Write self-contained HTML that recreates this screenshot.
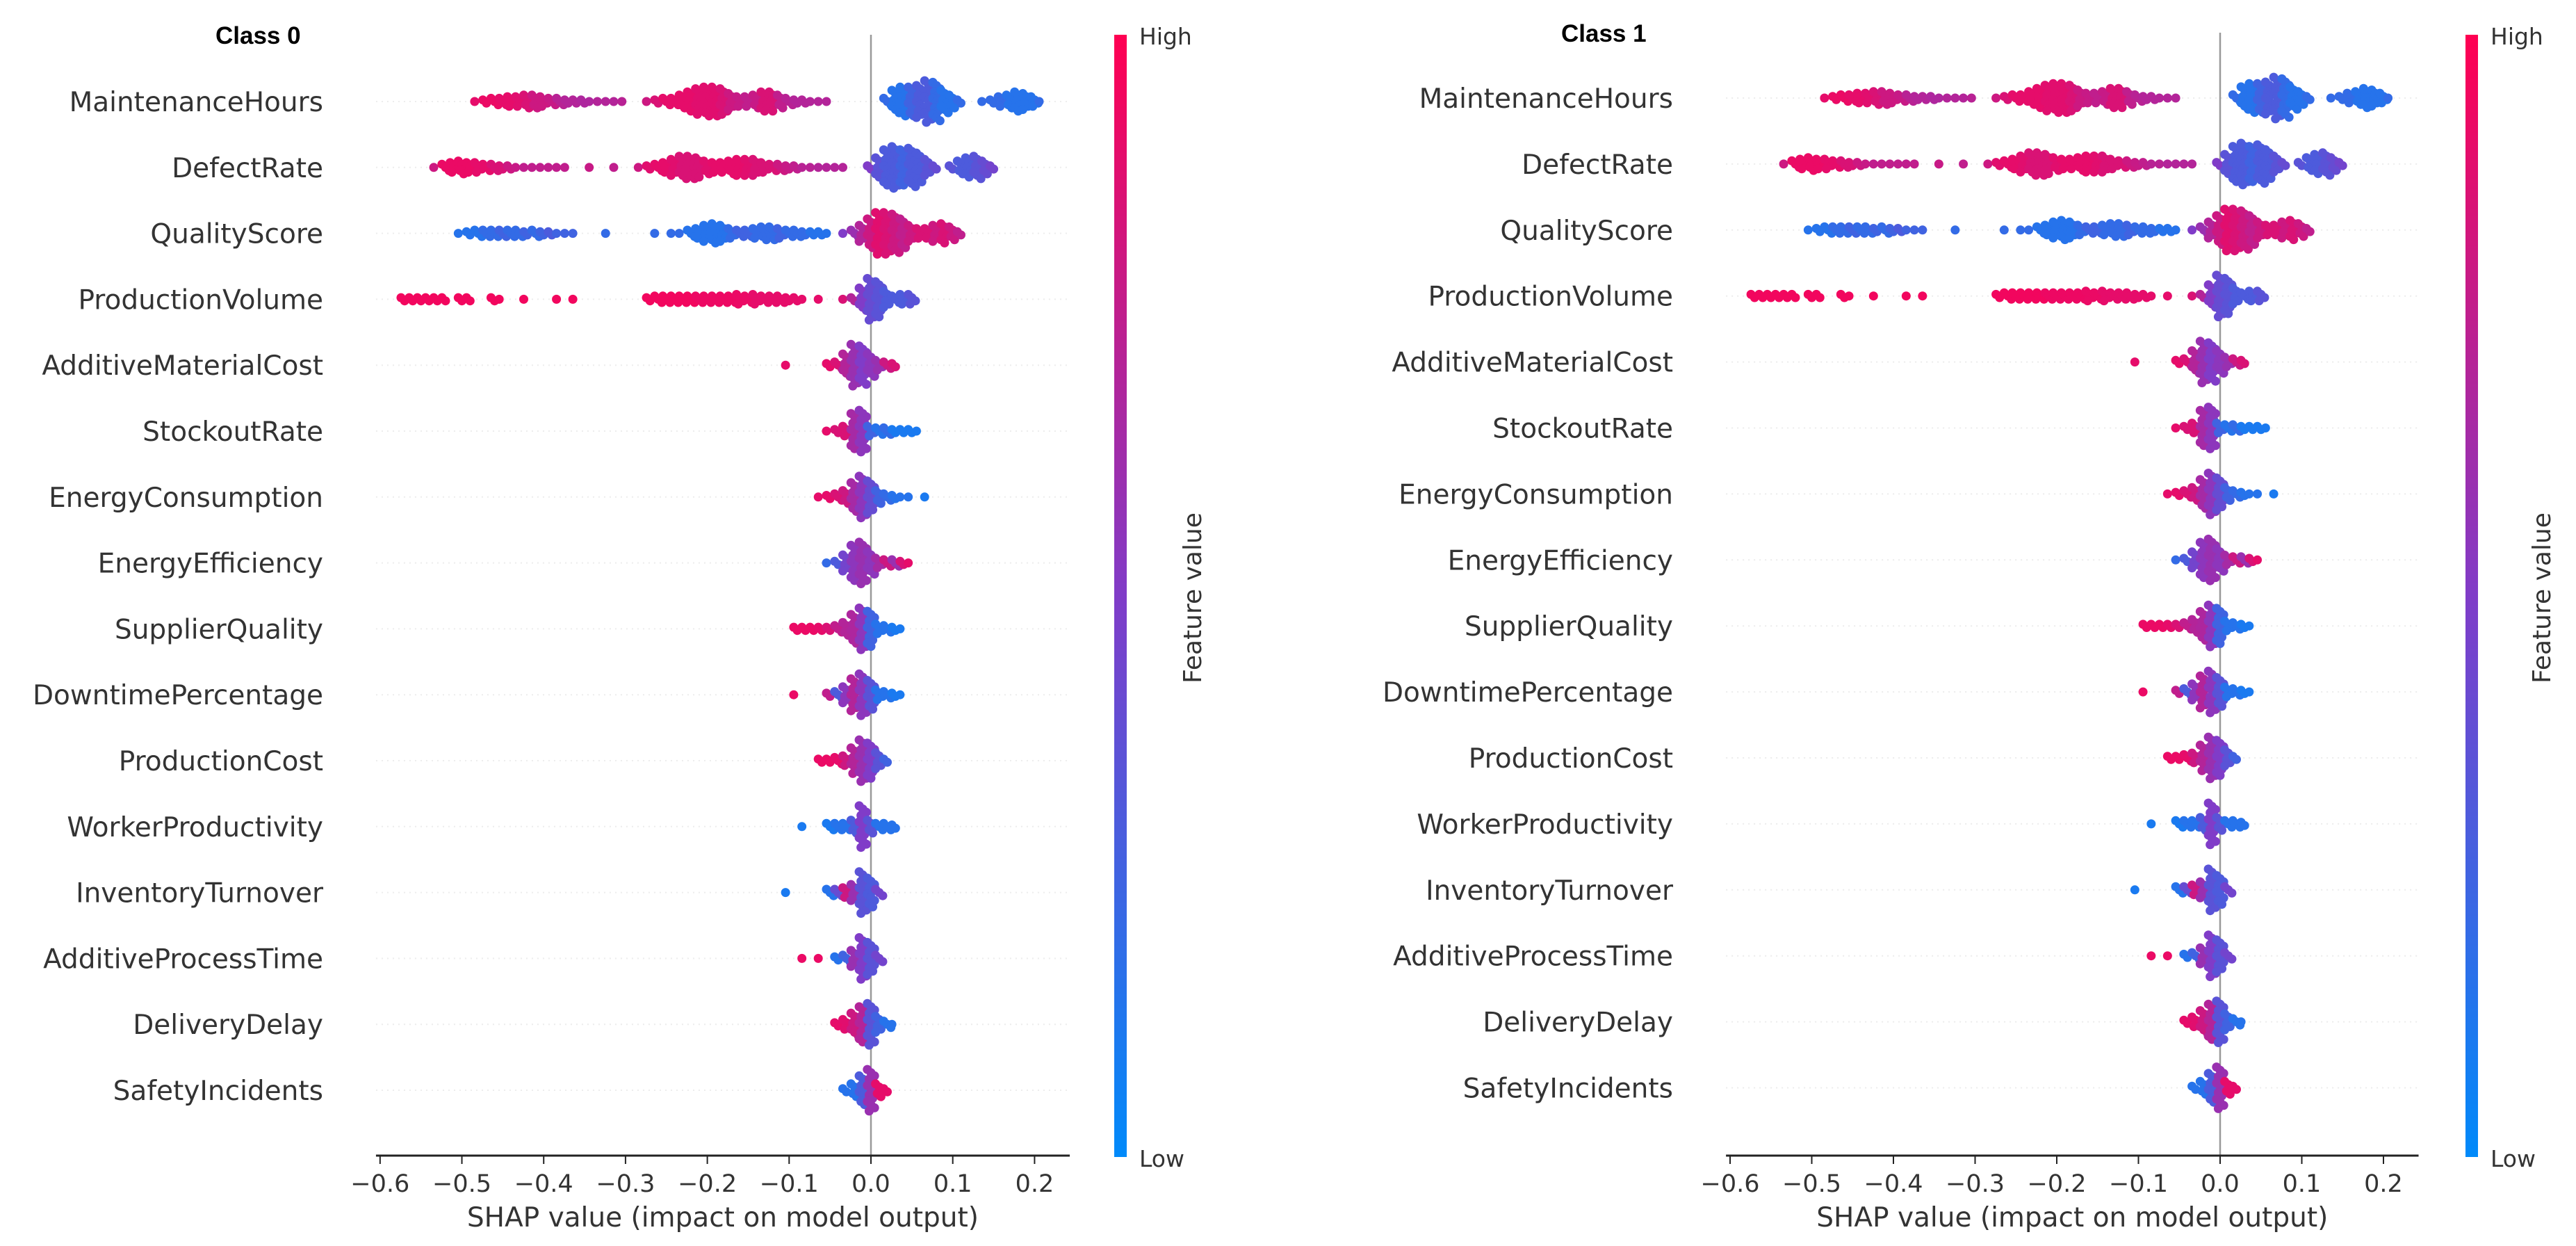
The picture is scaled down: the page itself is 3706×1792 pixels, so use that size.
<!DOCTYPE html>
<html><head><meta charset="utf-8">
<style>
html,body{margin:0;padding:0;background:#fff;}
svg{display:block;}
text{font-family:"DejaVu Sans","Liberation Sans",sans-serif;}
</style></head>
<body>
<svg id="chart" width="3706" height="1792" viewBox="0 0 3706 1792" xmlns="http://www.w3.org/2000/svg">
<defs>
<linearGradient id="cmap" x1="0" y1="1" x2="0" y2="0">
<stop offset="0" stop-color="rgb(0,138,250)"/>
<stop offset="0.5" stop-color="rgb(128,60,200)"/>
<stop offset="1" stop-color="rgb(255,0,82)"/>
</linearGradient>
</defs>
</svg>
<script>
const features = ["MaintenanceHours","DefectRate","QualityScore","ProductionVolume","AdditiveMaterialCost","StockoutRate","EnergyConsumption","EnergyEfficiency","SupplierQuality","DowntimePercentage","ProductionCost","WorkerProductivity","InventoryTurnover","AdditiveProcessTime","DeliveryDelay","SafetyIncidents"];
const xTicks = [-0.6,-0.5,-0.4,-0.3,-0.2,-0.1,0.0,0.1,0.2];
const xTickLabels = ["\u22120.6","\u22120.5","\u22120.4","\u22120.3","\u22120.2","\u22120.1","0.0","0.1","0.2"];
// bins: [shap value, point count, feature value (0 low .. 1 high)]
const maintenanceHoursBins = [[-0.48,1,0.9],[-0.47,2,0.92],[-0.46,3,0.92],[-0.45,3,0.9],[-0.44,4,0.9],[-0.43,4,0.88],[-0.42,5,0.85],[-0.41,5,0.8],[-0.40,4,0.8],[-0.39,3,0.78],[-0.38,3,0.72],[-0.37,2,0.7],[-0.36,2,0.7],[-0.35,2,0.68],[-0.34,1,0.68],[-0.33,1,0.7],[-0.32,1,0.7],[-0.31,1,0.7],[-0.30,1,0.72],[-0.27,1,0.8],[-0.26,2,0.85],[-0.25,3,0.9],[-0.24,3,0.9],[-0.23,5,0.9],[-0.22,7,0.9],[-0.21,9,0.88],[-0.20,10,0.88],[-0.19,10,0.88],[-0.18,9,0.85],[-0.17,6,0.8],[-0.16,4,0.78],[-0.15,4,0.75],[-0.14,5,0.78],[-0.13,7,0.85],[-0.12,7,0.85],[-0.11,5,0.75],[-0.10,3,0.72],[-0.09,2,0.7],[-0.08,2,0.7],[-0.07,1,0.7],[-0.06,1,0.7],[-0.05,1,0.7],[0.02,3,0.2],[0.03,8,0.15],[0.04,10,0.15],[0.05,10,0.25],[0.06,11,0.3],[0.07,14,0.3],[0.08,13,0.2],[0.09,8,0.15],[0.10,5,0.15],[0.11,2,0.2],[0.14,1,0.2],[0.15,2,0.2],[0.16,4,0.2],[0.17,5,0.15],[0.18,7,0.15],[0.19,6,0.15],[0.20,4,0.15],[0.21,1,0.2]];
const defectRateBins = [[-0.53,1,0.8],[-0.52,3,0.92],[-0.51,4,0.92],[-0.50,5,0.92],[-0.49,4,0.92],[-0.48,4,0.9],[-0.47,3,0.9],[-0.46,3,0.85],[-0.45,2,0.85],[-0.44,2,0.8],[-0.43,1,0.78],[-0.42,1,0.75],[-0.41,1,0.75],[-0.40,1,0.75],[-0.39,1,0.75],[-0.38,1,0.75],[-0.37,1,0.75],[-0.34,1,0.78],[-0.31,1,0.75],[-0.28,1,0.8],[-0.27,2,0.88],[-0.26,3,0.9],[-0.25,4,0.9],[-0.24,6,0.88],[-0.23,8,0.85],[-0.22,8,0.85],[-0.21,7,0.85],[-0.20,5,0.88],[-0.19,4,0.9],[-0.18,4,0.9],[-0.17,5,0.9],[-0.16,6,0.9],[-0.15,6,0.88],[-0.14,6,0.85],[-0.13,4,0.85],[-0.12,3,0.85],[-0.11,3,0.8],[-0.10,2,0.78],[-0.09,2,0.75],[-0.08,1,0.72],[-0.07,1,0.72],[-0.06,1,0.7],[-0.05,1,0.7],[-0.04,1,0.7],[-0.03,1,0.7],[0.00,2,0.5],[0.01,7,0.35],[0.02,12,0.3],[0.03,14,0.3],[0.04,12,0.25],[0.05,13,0.3],[0.06,10,0.3],[0.07,6,0.35],[0.08,2,0.4],[0.10,2,0.35],[0.11,5,0.3],[0.12,7,0.3],[0.13,8,0.35],[0.14,5,0.4],[0.15,2,0.45]];
const qualityScoreBins = [[-0.50,1,0.15],[-0.49,2,0.15],[-0.48,3,0.15],[-0.47,3,0.2],[-0.46,3,0.2],[-0.45,3,0.25],[-0.44,3,0.2],[-0.43,3,0.2],[-0.42,2,0.25],[-0.41,3,0.2],[-0.40,2,0.25],[-0.39,2,0.3],[-0.38,1,0.25],[-0.37,1,0.25],[-0.36,1,0.25],[-0.32,1,0.2],[-0.26,1,0.2],[-0.24,1,0.2],[-0.23,1,0.2],[-0.22,3,0.15],[-0.21,4,0.15],[-0.20,6,0.15],[-0.19,7,0.15],[-0.18,6,0.15],[-0.17,4,0.2],[-0.16,3,0.25],[-0.15,3,0.25],[-0.14,4,0.2],[-0.13,5,0.2],[-0.12,5,0.2],[-0.11,4,0.25],[-0.10,3,0.2],[-0.09,3,0.2],[-0.08,2,0.2],[-0.07,2,0.15],[-0.06,2,0.15],[-0.05,1,0.15],[-0.03,1,0.5],[-0.02,3,0.6],[-0.01,6,0.7],[0.00,10,0.8],[0.01,14,0.88],[0.02,14,0.85],[0.03,13,0.8],[0.04,10,0.75],[0.05,6,0.8],[0.06,4,0.85],[0.07,4,0.85],[0.08,6,0.8],[0.09,7,0.85],[0.10,5,0.8],[0.11,2,0.75]];
const productionVolumeBins = [[-0.57,2,0.95],[-0.56,2,0.95],[-0.55,2,0.95],[-0.54,2,0.95],[-0.53,2,0.95],[-0.52,2,0.95],[-0.50,2,0.95],[-0.49,2,0.95],[-0.46,2,0.95],[-0.45,1,0.95],[-0.42,1,0.95],[-0.38,1,0.95],[-0.36,1,0.95],[-0.27,2,0.95],[-0.26,3,0.95],[-0.25,3,0.95],[-0.24,3,0.95],[-0.23,3,0.95],[-0.22,3,0.95],[-0.21,3,0.93],[-0.20,3,0.93],[-0.19,3,0.93],[-0.18,3,0.93],[-0.17,3,0.93],[-0.16,4,0.92],[-0.15,3,0.92],[-0.14,4,0.9],[-0.13,3,0.9],[-0.12,3,0.9],[-0.11,3,0.9],[-0.10,2,0.9],[-0.09,2,0.9],[-0.08,1,0.9],[-0.06,1,0.9],[-0.03,1,0.85],[-0.02,2,0.7],[-0.01,8,0.5],[0.00,14,0.4],[0.01,12,0.35],[0.02,6,0.3],[0.03,3,0.3],[0.04,4,0.3],[0.05,4,0.35]];
const additiveMaterialCostBins = [[-0.10,1,0.9],[-0.05,2,0.9],[-0.04,3,0.85],[-0.03,8,0.7],[-0.02,14,0.6],[-0.01,13,0.5],[0.00,8,0.55],[0.01,4,0.6],[0.02,3,0.8],[0.03,2,0.85]];
const stockoutRateBins = [[-0.05,1,0.9],[-0.04,2,0.85],[-0.03,4,0.85],[-0.02,12,0.65],[-0.01,14,0.55],[0.00,4,0.25],[0.01,3,0.15],[0.02,3,0.2],[0.03,2,0.1],[0.04,2,0.1],[0.05,2,0.1],[0.06,1,0.1]];
const energyConsumptionBins = [[-0.06,1,0.9],[-0.05,2,0.9],[-0.04,3,0.85],[-0.03,5,0.8],[-0.02,10,0.65],[-0.01,14,0.55],[0.00,11,0.4],[0.01,5,0.25],[0.02,3,0.2],[0.03,2,0.15],[0.04,1,0.15],[0.05,1,0.15],[0.07,1,0.1]];
const energyEfficiencyBins = [[-0.05,1,0.2],[-0.04,2,0.3],[-0.03,6,0.45],[-0.02,12,0.55],[-0.01,14,0.6],[0.00,8,0.55],[0.01,4,0.65],[0.02,3,0.8],[0.03,3,0.6],[0.04,2,0.85],[0.05,1,0.9]];
const supplierQualityBins = [[-0.09,2,0.92],[-0.08,2,0.92],[-0.07,2,0.92],[-0.06,2,0.9],[-0.05,2,0.85],[-0.04,3,0.75],[-0.03,5,0.7],[-0.02,10,0.68],[-0.01,14,0.55],[0.00,12,0.25],[0.01,4,0.15],[0.02,3,0.15],[0.03,2,0.1],[0.04,1,0.1]];
const downtimePercentageBins = [[-0.09,1,0.92],[-0.05,2,0.75],[-0.04,3,0.3],[-0.03,6,0.55],[-0.02,11,0.7],[-0.01,14,0.55],[0.00,10,0.35],[0.01,4,0.15],[0.02,3,0.15],[0.03,2,0.1],[0.04,1,0.1]];
const productionCostBins = [[-0.06,2,0.92],[-0.05,2,0.92],[-0.04,3,0.9],[-0.03,4,0.8],[-0.02,9,0.7],[-0.01,14,0.6],[0.00,12,0.5],[0.01,6,0.35],[0.02,2,0.25]];
const workerProductivityBins = [[-0.08,1,0.1],[-0.05,3,0.1],[-0.04,3,0.15],[-0.03,3,0.15],[-0.02,5,0.3],[-0.01,14,0.5],[0.00,5,0.35],[0.01,3,0.15],[0.02,3,0.15],[0.03,2,0.15]];
const inventoryTurnoverBins = [[-0.10,1,0.1],[-0.05,3,0.15],[-0.04,3,0.4],[-0.03,4,0.8],[-0.02,6,0.6],[-0.01,14,0.35],[0.00,10,0.3],[0.01,3,0.45]];
const additiveProcessTimeBins = [[-0.08,1,0.92],[-0.06,1,0.92],[-0.04,2,0.15],[-0.03,3,0.25],[-0.02,6,0.6],[-0.01,14,0.5],[0.00,11,0.35],[0.01,3,0.45]];
const deliveryDelayBins = [[-0.04,2,0.9],[-0.03,4,0.88],[-0.02,8,0.8],[-0.01,12,0.7],[0.00,14,0.35],[0.01,6,0.25],[0.02,3,0.15],[0.03,1,0.15]];
const safetyIncidentsBins = [[-0.03,2,0.15],[-0.02,5,0.15],[-0.01,10,0.3],[0.00,14,0.6],[0.01,5,0.9],[0.02,2,0.9]];
const class0Bins = [maintenanceHoursBins,defectRateBins,qualityScoreBins,productionVolumeBins,additiveMaterialCostBins,stockoutRateBins,energyConsumptionBins,energyEfficiencyBins,supplierQualityBins,downtimePercentageBins,productionCostBins,workerProductivityBins,inventoryTurnoverBins,additiveProcessTimeBins,deliveryDelayBins,safetyIncidentsBins];
const class1Bins = class0Bins;

const NS = "http://www.w3.org/2000/svg";
const svg = document.getElementById("chart");
function mk(tag, attrs, parent){
  const e = document.createElementNS(NS, tag);
  for (const k in attrs) e.setAttribute(k, attrs[k]);
  (parent||svg).appendChild(e);
  return e;
}
function colorFor(t){
  const a=[0,138,250], m=[128,60,200], b=[255,0,82];
  let c;
  if (t<0.5){const u=t/0.5; c=a.map((v,i)=>Math.round(v+(m[i]-v)*u));}
  else {const u=(t-0.5)/0.5; c=m.map((v,i)=>Math.round(v+(b[i]-v)*u));}
  return "rgb("+c.join(",")+")";
}

const panels = [
  {title:"Class 0", bins:class0Bins, x0:1253, unit:1177, vmin:-0.605, vmax:0.243, row0:146, rowStep:94.8, labelX:465, titleX:310, cbX:1603, fvX:1728, axisY:1662, topY:50},
  {title:"Class 1", bins:class1Bins, x0:3194, unit:1175, vmin:-0.605, vmax:0.243, row0:141, rowStep:94.9, labelX:2407, titleX:2246, cbX:3547, fvX:3669, axisY:1662, topY:47}
];

panels.forEach((p, pi) => {
  const g = mk("g", {});
  
  
  const xs = v => p.x0 + v * p.unit;
  const ys = i => p.row0 + i * p.rowStep;

  features.forEach((f, i) => {
    const l = mk("line", {x1:xs(p.vmin), x2:xs(p.vmax), y1:ys(i), y2:ys(i), stroke:"#ececec", "stroke-width":2, "stroke-dasharray":"2 6"}, g);
    
    
  });
  const z = mk("line", {x1:xs(0), x2:xs(0), y1:p.topY, y2:p.axisY, stroke:"#999", "stroke-width":2.5}, g);
  
  

  p.bins.forEach((bins, fi) => {
    const fg = mk("g", {}, g);
    
    
    bins.forEach(b => {
      const n = b[1];
      for (let k = 0; k < n; k++) {
        const off = ((k * 7) % 5 - 2) * 0.0022;
        const dy = (k - (n - 1) / 2) * 4.6;
        const c = mk("circle", {cx:xs(b[0] + off), cy:ys(fi) + dy, r:6.5, fill:colorFor(b[2])}, fg);
        
        
      }
    });
  });

  features.forEach((f, i) => {
    const t = mk("text", {x:p.labelX, y:ys(i) + 14, "text-anchor":"end", "font-size":39, fill:"#333"}, g);
    t.textContent = f;
    
    
  });

  const ax = mk("line", {x1:xs(p.vmin), x2:xs(p.vmax), y1:p.axisY, y2:p.axisY, stroke:"#222", "stroke-width":3}, g);
  
  
  xTicks.forEach((v, i) => {
    const tk = mk("line", {x1:xs(v), x2:xs(v), y1:p.axisY, y2:p.axisY + 12, stroke:"#222", "stroke-width":2}, g);
    
    
    const tl = mk("text", {x:xs(v), y:p.axisY + 52, "text-anchor":"middle", "font-size":35, fill:"#333"}, g);
    tl.textContent = xTickLabels[i];
    
    
  });
  const xl = mk("text", {x:(xs(p.vmin) + xs(p.vmax)) / 2, y:1764, "text-anchor":"middle", "font-size":39, fill:"#333"}, g);
  xl.textContent = "SHAP value (impact on model output)";
  
  

  const tt = mk("text", {x:p.titleX, y:p.topY + 13, "font-size":35, "font-weight":"bold", fill:"#000", style:"font-family:'Liberation Sans',sans-serif"}, g);
  tt.textContent = p.title;
  
  

  const cb = mk("rect", {x:p.cbX, y:50, width:18, height:1614, fill:"url(#cmap)"}, g);
  
  
  const hi = mk("text", {x:p.cbX + 36, y:64, "font-size":33, fill:"#333"}, g);
  hi.textContent = "High";
  
  
  const lo = mk("text", {x:p.cbX + 36, y:1678, "font-size":33, fill:"#333"}, g);
  lo.textContent = "Low";
  
  
  const fv = mk("text", {x:p.fvX, y:860, "text-anchor":"middle", "font-size":36, fill:"#333", transform:"rotate(-90 " + (p.fvX) + " 860)"}, g);
  fv.textContent = "Feature value";
  
  
});
</script>
</body></html>
